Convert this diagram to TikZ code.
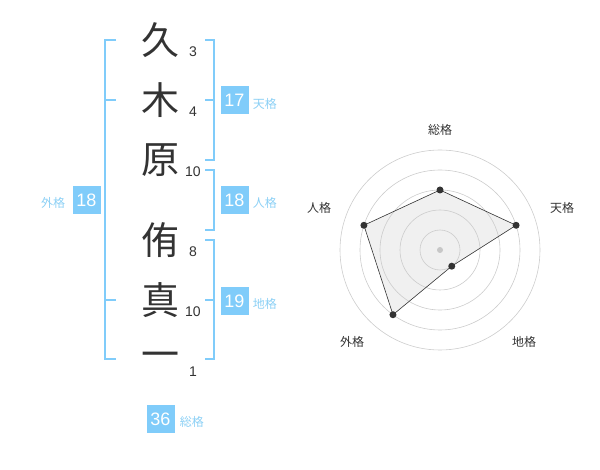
\documentclass[tikz,border=0pt]{standalone}
\usepackage{fontspec}
\setmainfont{Liberation Sans}
\newfontfamily\cjk{Noto Sans CJK JP}
\usetikzlibrary{positioning}
\definecolor{kakublue}{RGB}{128,204,250}
\definecolor{kakulabel}{RGB}{140,208,245}
\definecolor{inkgray}{RGB}{51,51,51}

\begin{document}
\begin{tikzpicture}
		[x=1pt, y=-1pt,
		k/.style = {font=\cjk\fontsize{38}{38}\selectfont, text=inkgray, inner sep=0pt},
		n/.style = {font=\fontsize{14}{14}\selectfont, text=inkgray, inner sep=0pt},
		b/.style = {fill=kakublue, text=white, minimum size=28pt, inner sep=0pt, font=\fontsize{18}{18}\selectfont},
		l/.style = {text=kakulabel, inner sep=0pt, font=\cjk\fontsize{12}{12}\selectfont},
		br/.style = {draw=kakublue, line width=2pt},
		ring/.style = {draw=black!20, line width=0.6pt},
		dot/.style = {fill=inkgray, circle, minimum size=7pt, inner sep=0pt},
		ax/.style = {text=inkgray, inner sep=0pt, font=\cjk\fontsize{12}{12}\selectfont}]
		
		\useasboundingbox (0,0) rectangle (600,470);
		
		\foreach \y/\alph/\name/\num in {
			40/K1/久/3,
			100/K2/木/4,
			160/K3/原/10,
			240/K4/侑/8,
			300/K5/真/10,
			360/K6/一/1}{
			\node[k] (\alph) at (160,\y) {\name};
			\node[n] (\alph n) at (193,\y+12) {\num};
		}
		
		\draw[br] (116,40) -- (105,40) -- (105,359) -- (116,359);
		\draw[br] (105,100) -- (116,100);
		\draw[br] (105,300) -- (116,300);
		\draw[br] (205,40) -- (214,40) -- (214,160) -- (205,160);
		\draw[br] (205,100) -- (214,100);
		\draw[br] (205,170) -- (214,170) -- (214,230) -- (205,230);
		\draw[br] (205,240) -- (214,240) -- (214,359) -- (205,359);
		\draw[br] (205,300) -- (214,300);
		
		\node[b] (ten) at (234.5,100.5) {17};
		\node[b] (jin) at (234.5,200) {18};
		\node[b] (chi) at (234.5,301) {19};
		\node[b] (gai) at (86.5,200) {18};
		\node[b] (sou) at (160.5,419) {36};
		\node[l, right=4pt of ten, yshift=-3pt] (tenl) {天格};
		\node[l, right=4pt of jin, yshift=-3pt] (jinl) {人格};
		\node[l, right=4pt of chi, yshift=-3pt] (chil) {地格};
		\node[l, left=7pt of gai, yshift=-3pt] (gail) {外格};
		\node[l, right=5pt of sou, yshift=-3pt] (soul) {総格};
		
		\coordinate (ctr) at (440,250);
		\foreach \a/\v/\alph/\lx/\ly/\name in {
			90/60/P1/0/-120/総格,
			18/80/P2/122/-42/天格,
			-54/20/P3/84/92/地格,
			-126/80/P4/-88/92/外格,
			162/80/P5/-121/-42/人格}{
			\coordinate (\alph) at ([shift={(\a:\v pt)}]ctr);
			\node[ax] (\alph l) at ([shift={(\lx,\ly)}]ctr) {\name};
		}
		\fill[black!6] (P1) -- (P2) -- (P3) -- (P4) -- (P5) -- cycle;
		\foreach \r in {20,40,...,100}
			\draw[ring] (ctr) circle[radius=\r pt];
		\draw[inkgray, line width=0.6pt] (P1) -- (P2) -- (P3) -- (P4) -- (P5) -- cycle;
		\foreach \alph in {P1, P2, P3, P4, P5}
			\node[dot] at (\alph) {};
		\node[dot, fill=black!22, minimum size=6pt] (ctrdot) at (ctr) {};
	\end{tikzpicture}
\end{document}
